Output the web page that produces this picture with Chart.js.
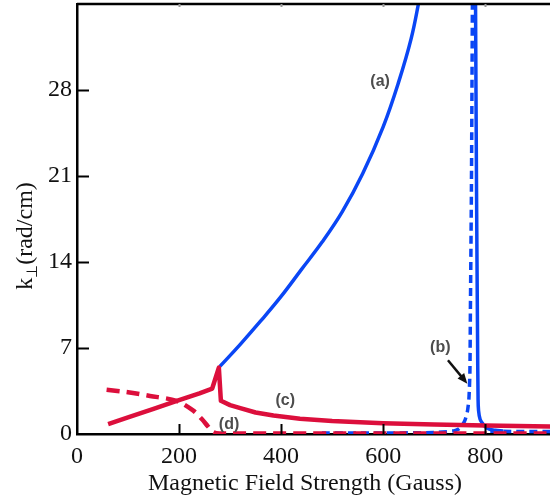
<!DOCTYPE html>
<html>
<head>
<meta charset="utf-8">
<script src="https://cdn.jsdelivr.net/npm/chart.js@4.4.1/dist/chart.umd.min.js"></script>
<style>
  html, body { margin: 0; padding: 0; background: #ffffff; }
  #wrap { width: 550px; height: 502px; }
</style>
</head>
<body>
<div id="wrap"><canvas id="kPerpChart"></canvas></div>
<script>
// ---------------------------------------------------------------------------
// Dispersion branches: field strength (Gauss) vs k_perp (rad/cm)
// null entries split a branch into separate pieces
// ---------------------------------------------------------------------------
const fieldTicks = [0, 200, 400, 600, 800];
const kTicks = [0, 7, 14, 21, 28];

// (a) solid blue: rising branch from the cusp, plus the resonance near 785 G
const branchAField = [280, 320, 360, 400, 440, 480, 520, 560, 600, 630, 655, 672, null,
    781, 783, 785, 786, 787, 790, 795, 800, 808, 820, 835];
const branchAK = [5.5, 7.3, 9.2, 11.2, 13.4, 15.6, 18.1, 21.2, 25.0, 28.6, 32.2, 35.6, null,
    35.6, 20.0, 8.0, 3.0, 1.9, 1.2, 0.85, 0.6, 0.4, 0.3, 0.25];

// (b) dashed blue: low branch along the axis turning up just below 775 G
const branchBField = [480, 600, 700, 738, 748, 755, 761, 765, 768, 770, 771, 773, 775, null,
    810, 930];
const branchBK = [0.08, 0.08, 0.12, 0.25, 0.4, 0.7, 1.2, 1.8, 2.8, 5.0, 10.0, 20.0, 35.6, null,
    0.22, 0.2];

// (c) solid red
const branchCField = [61, 100, 150, 200, 240, 265, 278, 282, 300, 320, 350, 385, 437, 500, 555, 600, 700, 800, 930];
const branchCK = [0.8, 1.35, 2.05, 2.75, 3.3, 3.7, 5.4, 2.7, 2.35, 2.1, 1.75, 1.5, 1.25, 1.05, 0.95, 0.88, 0.78, 0.7, 0.6];

// (d) dashed red
const branchDField = [58, 100, 143, 195, 228, 245, 257, 267, 280, 930];
const branchDK = [3.6, 3.4, 3.1, 2.7, 1.9, 1.2, 0.6, 0.15, 0.05, 0.05];

// curve tags, anchored in data coordinates
const tagText = ['(a)', '(b)', '(c)', '(d)'];
const tagField = [594, 712, 408, 298];
const tagK = [28.7, 7.0, 2.7, 0.8];

// arrow from the (b) tag down to its curve
const arrowField = [727, 765];
const arrowK = [6.0, 4.1];

const BLUE = '#0a46f5';
const RED = '#dc0f3c';
const SERIF = '"Liberation Serif", "Times New Roman", serif';

function toPoints(xs, ys) {
    return xs.map((x, i) => (x === null ? { x: NaN, y: NaN } : { x, y: ys[i] }));
}

// ---------------------------------------------------------------------------
// Frame, inward tick marks, axis titles and curve tags
// ---------------------------------------------------------------------------
const framePlugin = {
    id: 'frame',
    afterDraw(chart) {
        const { ctx, chartArea: area, scales: { x, y } } = chart;
        ctx.save();

        // top edge of the frame
        ctx.strokeStyle = '#000';
        ctx.lineWidth = 2.5;
        ctx.beginPath();
        ctx.moveTo(area.left, area.top);
        ctx.lineTo(area.right, area.top);
        ctx.stroke();

        // ticks pointing into the plot
        ctx.lineWidth = 2;
        fieldTicks.slice(1).forEach(v => {
            const px = Math.round(x.getPixelForValue(v)) + 0.5;
            ctx.strokeStyle = '#000';
            ctx.beginPath();
            ctx.moveTo(px, area.bottom);
            ctx.lineTo(px, area.bottom - 10);
            ctx.stroke();
            ctx.strokeStyle = '#999';
            ctx.beginPath();
            ctx.moveTo(px, area.top);
            ctx.lineTo(px, area.top + 3);
            ctx.stroke();
        });
        ctx.strokeStyle = '#000';
        kTicks.slice(1).forEach(v => {
            const py = Math.round(y.getPixelForValue(v)) + 0.5;
            ctx.beginPath();
            ctx.moveTo(area.left, py);
            ctx.lineTo(area.left + 12, py);
            ctx.stroke();
        });

        // x title
        ctx.fillStyle = '#111';
        ctx.font = '24px ' + SERIF;
        ctx.textAlign = 'center';
        ctx.textBaseline = 'middle';
        ctx.fillText('Magnetic Field Strength (Gauss)', 305, 484);

        // y title: k with a perpendicular subscript
        ctx.save();
        ctx.translate(24, 236);
        ctx.rotate(-Math.PI / 2);
        const big = '24px ' + SERIF;
        const small = '15px ' + SERIF;
        ctx.font = big;
        const wK = ctx.measureText('k').width;
        const wRest = ctx.measureText('(rad/cm)').width;
        ctx.font = small;
        const wSub = ctx.measureText('\u22a5').width;
        let cx = -(wK + wSub + wRest) / 2;
        ctx.textAlign = 'left';
        ctx.textBaseline = 'alphabetic';
        ctx.font = big;
        ctx.fillText('k', cx, 8);
        cx += wK;
        ctx.font = small;
        ctx.fillText('\u22a5', cx, 13);
        cx += wSub;
        ctx.font = big;
        ctx.fillText('(rad/cm)', cx, 8);
        ctx.restore();

        // curve tags
        ctx.fillStyle = '#4d4d4d';
        ctx.font = 'bold 16px "Liberation Sans", Arial, sans-serif';
        ctx.textAlign = 'center';
        ctx.textBaseline = 'middle';
        tagText.forEach((t, i) => {
            ctx.fillText(t, x.getPixelForValue(tagField[i]), y.getPixelForValue(tagK[i]));
        });

        // arrow to curve (b)
        const x0 = x.getPixelForValue(arrowField[0]);
        const y0 = y.getPixelForValue(arrowK[0]);
        const x1 = x.getPixelForValue(arrowField[1]);
        const y1 = y.getPixelForValue(arrowK[1]);
        const ang = Math.atan2(y1 - y0, x1 - x0);
        const head = 11;
        ctx.strokeStyle = '#111';
        ctx.fillStyle = '#111';
        ctx.lineWidth = 2.5;
        ctx.beginPath();
        ctx.moveTo(x0, y0);
        ctx.lineTo(x1 - head * 0.8 * Math.cos(ang), y1 - head * 0.8 * Math.sin(ang));
        ctx.stroke();
        ctx.beginPath();
        ctx.moveTo(x1, y1);
        ctx.lineTo(x1 - head * Math.cos(ang - 0.4), y1 - head * Math.sin(ang - 0.4));
        ctx.lineTo(x1 - head * Math.cos(ang + 0.4), y1 - head * Math.sin(ang + 0.4));
        ctx.closePath();
        ctx.fill();

        ctx.restore();
    }
};

// ---------------------------------------------------------------------------
// Chart
// ---------------------------------------------------------------------------
const ctx = document.getElementById('kPerpChart');

new Chart(ctx, {
    type: 'line',
    data: {
        datasets: [
            {
                label: '(c)',
                data: toPoints(branchCField, branchCK),
                borderColor: RED,
                borderWidth: 4.5
            },
            {
                label: '(d)',
                data: toPoints(branchDField, branchDK),
                borderColor: RED,
                borderWidth: 4.5,
                borderDash: [13, 7],
                tension: 0.3
            },
            {
                label: '(a)',
                data: toPoints(branchAField, branchAK),
                borderColor: BLUE,
                borderWidth: 3.5,
                tension: 0.4
            },
            {
                label: '(b)',
                data: toPoints(branchBField, branchBK),
                borderColor: BLUE,
                borderWidth: 3.5,
                borderDash: [8, 5],
                tension: 0.2
            }
        ]
    },
    options: {
        responsive: true,
        maintainAspectRatio: false,
        devicePixelRatio: 1,
        animation: false,
        layout: { padding: { top: 4, right: 0, left: 0, bottom: 0 } },
        elements: {
            point: { radius: 0, hoverRadius: 0 },
            line: { tension: 0, fill: false, borderCapStyle: 'butt', borderJoinStyle: 'round' }
        },
        datasets: { line: { spanGaps: false, clip: 0 } },
        scales: {
            x: {
                type: 'linear',
                min: 0,
                max: 927,
                afterBuildTicks: scale => { scale.ticks = fieldTicks.map(v => ({ value: v })); },
                afterFit: scale => {
                    scale.height = 68;
                    scale.paddingLeft = 0;
                    scale.paddingRight = 0;
                },
                grid: { display: false, drawTicks: false },
                border: { display: true, color: '#000', width: 2.5 },
                ticks: {
                    color: '#111',
                    padding: 8,
                    maxRotation: 0,
                    font: { family: SERIF, size: 24 }
                }
            },
            y: {
                type: 'linear',
                min: 0,
                max: 35,
                afterBuildTicks: scale => { scale.ticks = kTicks.map(v => ({ value: v })); },
                afterFit: scale => {
                    scale.width = 77;
                    scale.paddingTop = 0;
                    scale.paddingBottom = 0;
                },
                grid: { display: false, drawTicks: false },
                border: { display: true, color: '#000', width: 2.5 },
                ticks: {
                    color: '#111',
                    padding: 5,
                    font: { family: SERIF, size: 24 }
                }
            }
        },
        plugins: {
            legend: { display: false },
            tooltip: { enabled: false }
        }
    },
    plugins: [framePlugin]
});
</script>
</body>
</html>
